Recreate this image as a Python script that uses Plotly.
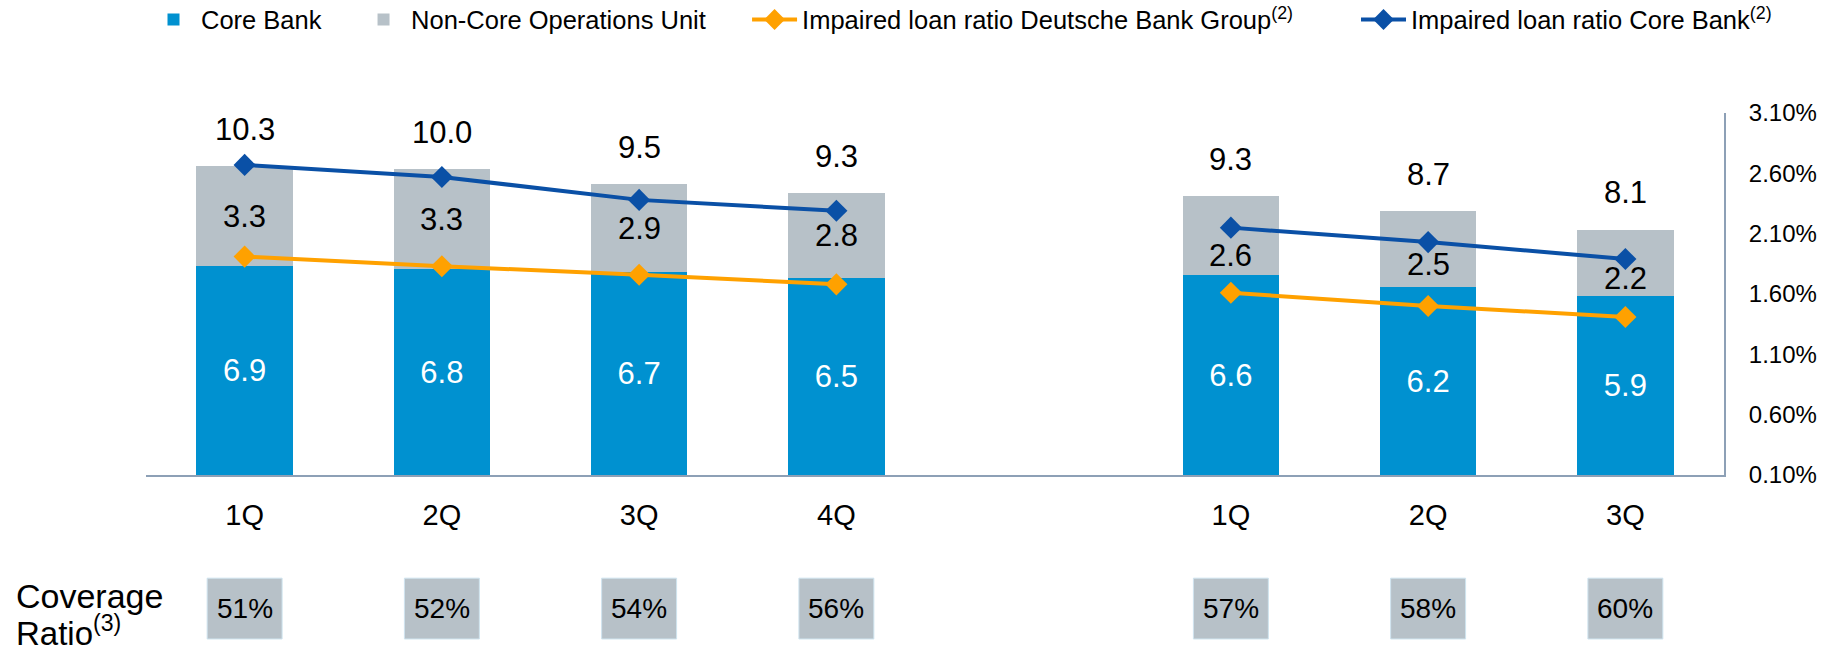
import plotly.graph_objects as go

# quarters, two years side by side with one empty slot between them
quarters = ["1Q", "2Q", "3Q", "4Q", "1Q", "2Q", "3Q"]
slots = [0, 1, 2, 3, 5, 6, 7]

core_bank = [6.9, 6.8, 6.7, 6.5, 6.6, 6.2, 5.9]
ncou = [3.3, 3.3, 2.9, 2.8, 2.6, 2.5, 2.2]
totals = [10.3, 10.0, 9.5, 9.3, 9.3, 8.7, 8.1]

ratio_group = [1.91, 1.83, 1.76, 1.68, 1.61, 1.50, 1.41]
ratio_core = [2.67, 2.57, 2.38, 2.29, 2.15, 2.03, 1.89]

coverage = ["51%", "52%", "54%", "56%", "57%", "58%", "60%"]

BLUE = "#0091d0"
GREY = "#b7c1c8"
ORANGE = "#ffa100"
DARKBLUE = "#0a50a6"
AXIS = "#8da0b6"
FONT = "Arial, Liberation Sans, sans-serif"

fig = go.Figure()

fig.add_trace(go.Bar(
    x=slots, y=core_bank, name="Core Bank",
    marker=dict(color=BLUE, line=dict(width=0)),
    text=[f"{v:.1f}" for v in core_bank],
    textposition="inside", insidetextanchor="middle",
    textfont=dict(color="white", size=31, family=FONT),
    width=0.49, legend="legend",
))
fig.add_trace(go.Bar(
    x=slots, y=ncou, name="Non-Core Operations Unit",
    marker=dict(color=GREY, line=dict(width=0)),
    width=0.49, legend="legend2",
))
fig.add_trace(go.Scatter(
    x=slots[:4], y=ratio_group[:4], yaxis="y2", mode="lines+markers",
    name="Impaired loan ratio Deutsche Bank Group<sup>(2)</sup>",
    line=dict(color=ORANGE, width=4),
    marker=dict(symbol="diamond", size=17, color=ORANGE),
    legend="legend3", legendgroup="g",
))
fig.add_trace(go.Scatter(
    x=slots[4:], y=ratio_group[4:], yaxis="y2", mode="lines+markers",
    line=dict(color=ORANGE, width=4),
    marker=dict(symbol="diamond", size=17, color=ORANGE),
    showlegend=False, legendgroup="g",
))
fig.add_trace(go.Scatter(
    x=slots[:4], y=ratio_core[:4], yaxis="y2", mode="lines+markers",
    name="Impaired loan ratio Core Bank<sup>(2)</sup>",
    line=dict(color=DARKBLUE, width=4),
    marker=dict(symbol="diamond", size=17, color=DARKBLUE),
    legend="legend4", legendgroup="c",
))
fig.add_trace(go.Scatter(
    x=slots[4:], y=ratio_core[4:], yaxis="y2", mode="lines+markers",
    line=dict(color=DARKBLUE, width=4),
    marker=dict(symbol="diamond", size=17, color=DARKBLUE),
    showlegend=False, legendgroup="c",
))

# labels on the grey segments; second year sits a bit lower
ncou_shift = [0, 0, 0, 0, -20, -15, -16]
for s, c, n, dy in zip(slots, core_bank, ncou, ncou_shift):
    fig.add_annotation(x=s, y=c + n / 2, text=f"{n:.1f}", showarrow=False,
                       yshift=dy, font=dict(size=31, color="black", family=FONT))

for s, c, n, t in zip(slots, core_bank, ncou, totals):
    fig.add_annotation(x=s, y=c + n, text=f"{t:.1f}", showarrow=False,
                       yshift=37, font=dict(size=31, color="black", family=FONT))

# coverage ratio boxes under the axis
for s, cv in zip(slots, coverage):
    fig.add_shape(type="rect", xref="x", yref="paper",
                  x0=s - 0.19, x1=s + 0.19, y0=-0.453, y1=-0.285,
                  fillcolor=GREY, line=dict(color="#cfe4ef", width=1))
    fig.add_annotation(x=s, xref="x", y=-0.369, yref="paper", text=cv,
                       showarrow=False, xanchor="center", yanchor="middle",
                       font=dict(size=28, color="black", family=FONT))

fig.add_annotation(x=-0.0837, xref="paper", y=-0.335, yref="paper",
                   text="Coverage", showarrow=False, xanchor="left", yanchor="middle",
                   font=dict(size=34, color="black", family=FONT))
fig.add_annotation(x=-0.0837, xref="paper", y=-0.432, yref="paper",
                   text="Ratio<sup>(3)</sup>", showarrow=False, xanchor="left", yanchor="middle",
                   font=dict(size=33, color="black", family=FONT))

leg = dict(orientation="h", yanchor="top", y=1.322, bgcolor="rgba(0,0,0,0)",
           font=dict(size=25.5, color="black", family=FONT), itemwidth=45)

fig.update_layout(
    width=1827, height=654,
    margin=dict(l=146, r=103, t=113, b=179, autoexpand=False),
    paper_bgcolor="white", plot_bgcolor="white",
    barmode="stack", bargap=0.5,
    font=dict(family=FONT, color="black"),
    legend=dict(leg, x=0.0),
    legend2=dict(leg, x=0.1331),
    legend3=dict(leg, x=0.3809),
    legend4=dict(leg, x=0.7668),
    xaxis=dict(
        range=[-0.5, 7.5], tickvals=slots, ticktext=quarters,
        showline=True, linecolor=AXIS, linewidth=2, showgrid=False, zeroline=False,
        ticks="outside", ticklen=13, tickcolor="rgba(0,0,0,0)",
        tickfont=dict(size=29, color="black", family=FONT),
    ),
    yaxis=dict(range=[0, 11.95], visible=False, showgrid=False),
    yaxis2=dict(
        overlaying="y", side="right", range=[0.1, 3.1],
        tick0=0.1, dtick=0.5, tickformat=".2f", ticksuffix="%",
        showline=True, linecolor=AXIS, linewidth=2, showgrid=False, zeroline=False,
        ticks="outside", ticklen=18, tickcolor="rgba(0,0,0,0)",
        tickfont=dict(size=24, color="black", family=FONT),
    ),
)

# the page body has a default 8px margin; drop it so the figure fills the window
fig.write_html("out.html", config={"displayModeBar": False},
               post_script="document.body.style.margin='0';")
